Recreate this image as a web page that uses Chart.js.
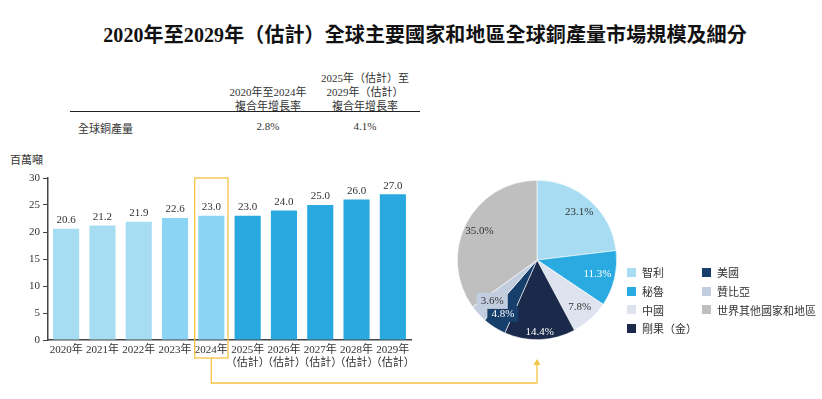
<!DOCTYPE html>
<html>
<head>
<meta charset="utf-8">
<script src="https://cdn.jsdelivr.net/npm/chart.js@4"></script>
<style>
  body { margin: 0; background: #fff; width: 822px; height: 399px; position: relative; overflow: hidden;
         font-family: "Liberation Serif", "Noto Sans CJK TC", serif; color: #222; }
  .abs { position: absolute; }
  #title { left: 14px; width: 822px; top: 19px; text-align: center; font-size: 20px; font-weight: bold; color: #111; letter-spacing: 0.1px; }
  .th { font-size: 11px; line-height: 14px; text-align: center; color: #333; }
  #rule { left: 70px; top: 111px; width: 350px; height: 0; border-top: 1.2px solid #222; }
  .td { font-size: 11px; color: #333; top: 120px; }
  #unit { left: 10px; top: 151px; font-size: 11px; color: #333; }
  #legend { left: 627px; top: 263px; display: grid; grid-auto-flow: column; grid-template-rows: repeat(4, 18.7px);
            grid-template-columns: 75px 120px; font-size: 11px; color: #333; }
  #legend div { display: flex; align-items: center; }
  #legend span.sw { width: 9px; height: 9px; margin-right: 6px; display: inline-block; }
  canvas { position: absolute; }
</style>
</head>
<body>
<div id="title" class="abs">2020年至2029年（估計）全球主要國家和地區全球銅產量市場規模及細分</div>

<div class="abs th" style="left:218px;top:85px;width:100px;">2020年至2024年<br>複合年增長率</div>
<div class="abs th" style="left:305px;top:71px;width:120px;">2025年（估計）至<br>2029年（估計）<br>複合年增長率</div>
<div id="rule" class="abs"></div>
<div class="abs td" style="left:78px;">全球銅產量</div>
<div class="abs td" style="left:238px;width:60px;text-align:center;">2.8%</div>
<div class="abs td" style="left:335px;width:60px;text-align:center;">4.1%</div>
<div id="unit" class="abs">百萬噸</div>

<canvas id="barChart" width="822" height="239" style="left:0;top:160px;"></canvas>
<canvas id="pieChart" width="160" height="160" style="left:457px;top:180px;"></canvas>
<div id="legend" class="abs"></div>

<script>
// bar data
const years = ['2020年', '2021年', '2022年', '2023年', '2024年',
  ['2025年', '（估計）'], ['2026年', '（估計）'], ['2027年', '（估計）'], ['2028年', '（估計）'], ['2029年', '（估計）']];
const production = [20.6, 21.2, 21.9, 22.6, 23.0, 23.0, 24.0, 25.0, 26.0, 27.0];
const barColors = ['#a7ddf3', '#a7ddf3', '#a7ddf3', '#8cd4f3', '#8cd4f3',
  '#29a9e0', '#29a9e0', '#29a9e0', '#29a9e0', '#29a9e0'];
const yTicks = [0, 5, 10, 15, 20, 25, 30];

// pie data
const regions = ['智利', '秘魯', '中國', '剛果（金）', '美國', '贊比亞', '世界其他國家和地區'];
const shares = [23.1, 11.3, 7.8, 14.4, 4.8, 3.6, 35.0];
const pieColors = ['#a8dcf2', '#29abe2', '#dde4ef', '#1b2a4a', '#173f6b', '#c3cde0', '#bfbfbf'];
const pieLabelColors = ['#333', '#fff', '#333', '#fff', '#fff', '#333', '#333'];
const pieLabelRadius = [0.8, 0.78, 0.8, 0.91, 0.8, 0.76, 0.81];
const pieLabelBoxed = [false, false, false, false, true, true, false];
const legendOrder = [0, 1, 2, 3, 4, 5, 6];

const FONT = '"Liberation Serif", "Noto Sans CJK TC", serif';
const highlight = 4; // 2024 bar
const gold = '#f6c443';

// value labels over bars + highlight box + connector
const barExtras = {
  id: 'barExtras',
  afterDatasetsDraw(chart) {
    const ctx = chart.ctx;
    const meta = chart.getDatasetMeta(0);
    ctx.save();
    ctx.font = '11px ' + FONT;
    ctx.fillStyle = '#333';
    ctx.textAlign = 'center';
    ctx.textBaseline = 'bottom';
    meta.data.forEach((bar, i) => {
      ctx.fillText(production[i].toFixed(1), bar.x, bar.y - 3);
    });

    // highlight box around 2024
    const b = meta.data[highlight];
    const half = chart.scales.x.width / production.length / 2;
    const boxL = b.x - half + 1.5, boxR = b.x + half - 1.5;
    const top = chart.chartArea.top;
    const bottom = chart.chartArea.bottom + 18;
    ctx.strokeStyle = gold;
    ctx.lineWidth = 1.3;
    ctx.strokeRect(boxL, top, boxR - boxL, bottom - top);

    // connector to pie
    const pieX = 537, lineY = 223, tipY = 199;
    ctx.beginPath();
    ctx.moveTo(b.x, bottom);
    ctx.lineTo(b.x, lineY);
    ctx.lineTo(pieX, lineY);
    ctx.lineTo(pieX, tipY + 5);
    ctx.stroke();
    ctx.fillStyle = gold;
    ctx.beginPath();
    ctx.moveTo(pieX, tipY);
    ctx.lineTo(pieX - 3.5, tipY + 6);
    ctx.lineTo(pieX + 3.5, tipY + 6);
    ctx.closePath();
    ctx.fill();
    ctx.restore();
  }
};

new Chart(document.getElementById('barChart'), {
  type: 'bar',
  data: {
    labels: years,
    datasets: [{
      data: production,
      backgroundColor: barColors,
      borderWidth: 0,
      barPercentage: 0.72,
      categoryPercentage: 1
    }]
  },
  options: {
    responsive: false,
    animation: false,
    layout: { padding: { left: 0, right: 411, top: 18, bottom: 0 } },
    plugins: { legend: { display: false }, tooltip: { enabled: false } },
    scales: {
      x: {
        grid: { display: false, drawTicks: false },
        border: { color: '#444', width: 1.5 },
        ticks: { color: '#333', font: { family: FONT, size: 11, lineHeight: 1.15 }, padding: 4, maxRotation: 0, autoSkip: false },
        afterFit(scale) { scale.height = 59; }
      },
      y: {
        min: 0, max: 30,
        afterBuildTicks(scale) { scale.ticks = yTicks.map(v => ({ value: v })); },
        grid: { drawOnChartArea: false, drawTicks: true, tickLength: 5, color: '#444' },
        border: { color: '#444', width: 1.5 },
        ticks: { color: '#333', font: { family: FONT, size: 11 }, padding: 3 },
        afterFit(scale) { scale.width = 48; }
      }
    }
  },
  plugins: [barExtras]
});

// percent labels in pie
const pieLabels = {
  id: 'pieLabels',
  afterDatasetsDraw(chart) {
    const ctx = chart.ctx;
    const meta = chart.getDatasetMeta(0);
    ctx.save();
    ctx.font = '11px ' + FONT;
    ctx.textAlign = 'center';
    ctx.textBaseline = 'middle';
    meta.data.forEach((arc, i) => {
      const mid = (arc.startAngle + arc.endAngle) / 2;
      const r = arc.outerRadius * pieLabelRadius[i];
      const x = arc.x + Math.cos(mid) * r;
      const y = arc.y + Math.sin(mid) * r;
      const txt = shares[i].toFixed(1) + '%';
      if (pieLabelBoxed[i]) {
        const w = ctx.measureText(txt).width + 8;
        ctx.fillStyle = pieColors[i];
        ctx.fillRect(x - w / 2, y - 8, w, 16);
      }
      ctx.fillStyle = pieLabelColors[i];
      ctx.fillText(txt, x, y);
    });
    ctx.restore();
  }
};

new Chart(document.getElementById('pieChart'), {
  type: 'pie',
  data: {
    labels: regions,
    datasets: [{
      data: shares,
      backgroundColor: pieColors,
      borderColor: '#fff',
      borderWidth: 0.6
    }]
  },
  options: {
    responsive: false,
    animation: false,
    layout: { padding: 0 },
    plugins: { legend: { display: false }, tooltip: { enabled: false } }
  },
  plugins: [pieLabels]
});

// legend
const legendEl = document.getElementById('legend');
legendOrder.forEach(i => {
  const item = document.createElement('div');
  item.innerHTML = '<span class="sw" style="background:' + pieColors[i] + '"></span>' + regions[i];
  legendEl.appendChild(item);
});
</script>
</body>
</html>
